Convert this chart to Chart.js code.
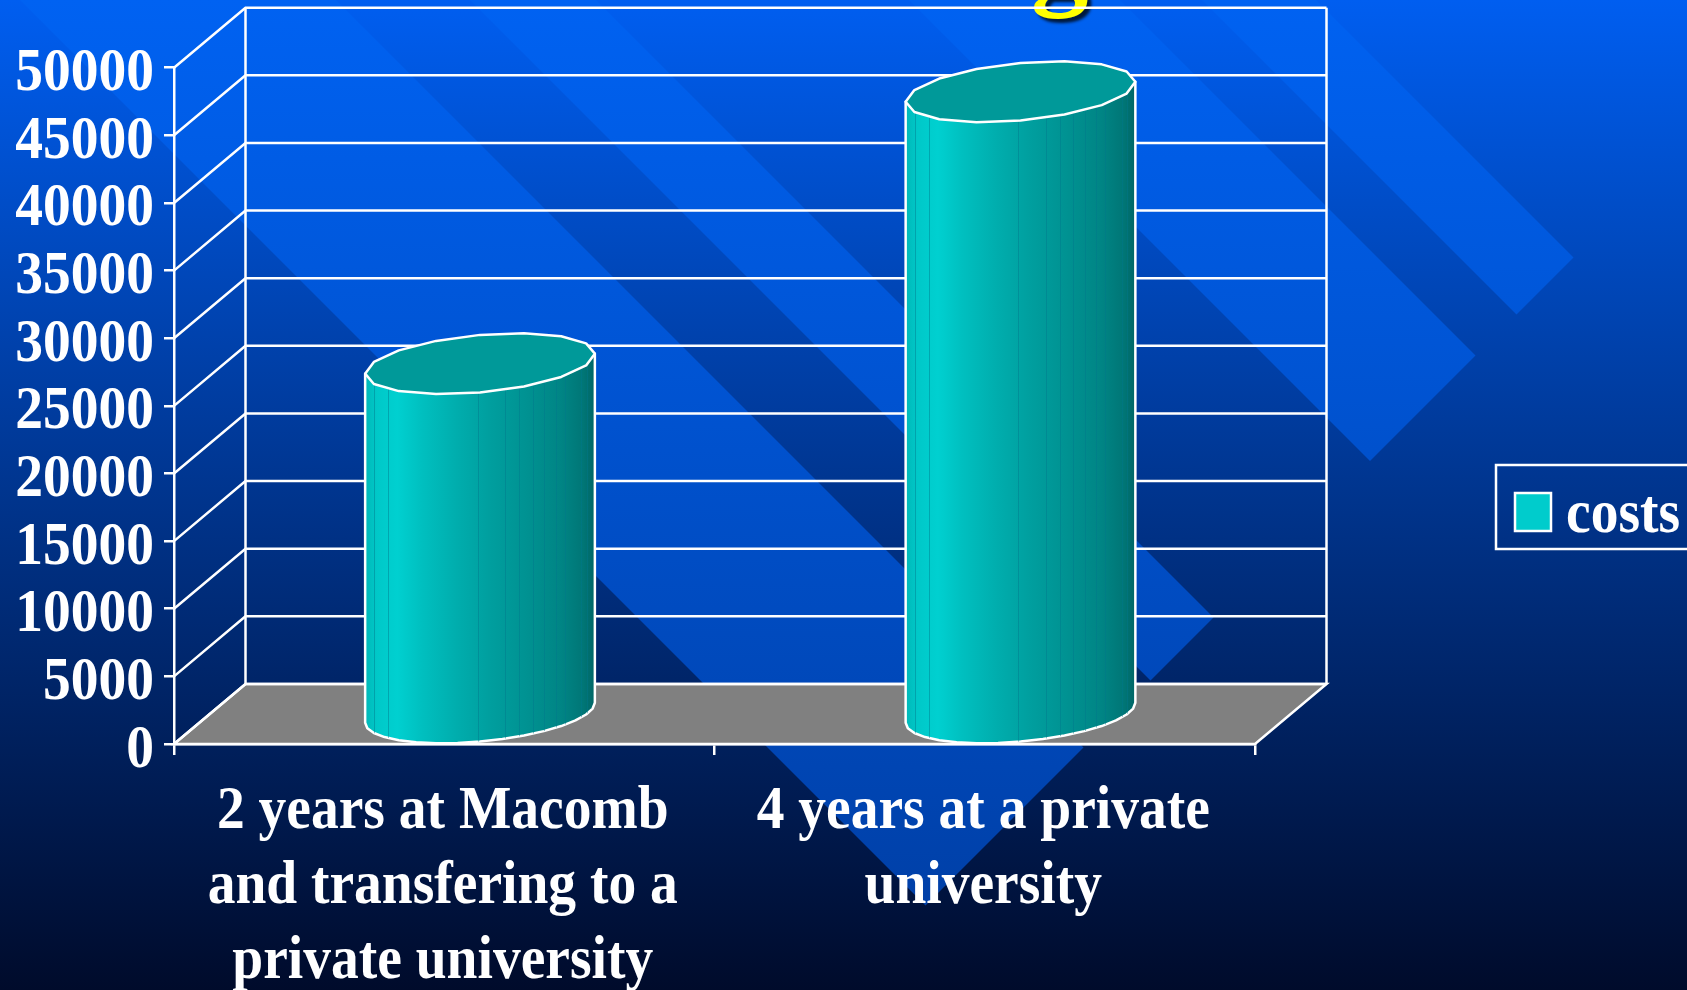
<!DOCTYPE html>
<html>
<head>
<meta charset="utf-8">
<title>costs</title>
<script src="https://cdn.jsdelivr.net/npm/chart.js@4/dist/chart.umd.js"></script>
<style>
    html, body { margin: 0; padding: 0; background: #00102e; overflow: hidden; }
    canvas { display: block; }
</style>
</head>
<body>
<canvas id="costChart" width="1687" height="990"></canvas>
<script>
const categories = [
    ['2 years at Macomb', 'and transfering to a', 'private university'],
    ['4 years at a private', 'university']
];
const costs = [25900, 46000];
const seriesLabel = 'costs';
const axisMax = 50000;
const axisStep = 5000;

const labelFont = 'bold 55.5px "Liberation Serif"';
const textStretch = 1.09;   // the slide text is taller than the font, it was resized with the slide
const depthX = 71.5;        // how far the back wall sits from the front axis
const depthY = -60;
const lineWidth = 2.5;
const rimLean = 10;         // the cylinder sides meet the rim 10px off centre
const rimSquash = 28.8;

// background chevrons, as ranges of (x - y), all cut off on x + y = 1831
const stripes = [[20, 336], [470, 596], [909, 1120], [1202, 1316]];
const stripeEnd = 1831;

const shadeStops = [
    [0, '#00b8b8'], [0.05, '#00c8c8'], [0.14, '#00d0d0'], [0.25, '#00bfbf'], [0.4, '#00adad'],
    [0.55, '#009e9e'], [0.7, '#009292'], [0.85, '#008585'], [0.95, '#007676'], [1, '#006666']
];
// seams between the facets of the cylinder, as a share of its width
const seams = [0.04, 0.1, 0.49, 0.61, 0.67, 0.73, 0.78, 0.83, 0.87, 0.94, 0.965];

function drawText(ctx, text, x, y, align) {
    ctx.save();
    ctx.font = labelFont;
    ctx.fillStyle = '#ffffff';
    ctx.textAlign = align;
    ctx.textBaseline = 'alphabetic';
    ctx.translate(x, y);
    ctx.scale(1, textStretch);
    ctx.fillText(text, 0, 0);
    ctx.restore();
}

function drawBackground(ctx, chart) {
    const h = chart.height;
    const base = ctx.createLinearGradient(0, 0, 0, h);
    base.addColorStop(0, '#005ef0');
    base.addColorStop(1, '#000b2b');
    ctx.fillStyle = base;
    ctx.fillRect(0, 0, chart.width, h);

    const lit = ctx.createLinearGradient(0, 0, 0, 900);
    lit.addColorStop(0, '#0062f2');
    lit.addColorStop(1, '#0040a8');
    ctx.fillStyle = lit;
    stripes.forEach(([a, b]) => {
        ctx.beginPath();
        ctx.moveTo(a, 0);
        ctx.lineTo(b, 0);
        ctx.lineTo((stripeEnd + b) / 2, (stripeEnd - b) / 2);
        ctx.lineTo((stripeEnd + a) / 2, (stripeEnd - a) / 2);
        ctx.closePath();
        ctx.fill();
    });

    // the only bit of the slide title that is left in the crop
    ctx.save();
    ctx.font = 'bold 115px "Liberation Serif"';
    ctx.fillStyle = '#ffff00';
    ctx.shadowColor = 'rgba(0,0,0,0.75)';
    ctx.shadowOffsetX = 4;
    ctx.shadowOffsetY = 4;
    ctx.shadowBlur = 3;
    ctx.fillText('g', 1031, -6);
    ctx.restore();
}

function drawWalls(ctx, chart) {
    const { left, right, bottom } = chart.chartArea;
    const yScale = chart.scales.y;

    ctx.save();
    ctx.fillStyle = '#808080';
    ctx.strokeStyle = '#ffffff';
    ctx.lineWidth = lineWidth;
    ctx.beginPath();
    ctx.moveTo(left, bottom);
    ctx.lineTo(left + depthX, bottom + depthY);
    ctx.lineTo(right + depthX, bottom + depthY);
    ctx.lineTo(right, bottom);
    ctx.closePath();
    ctx.fill();
    ctx.stroke();

    yScale.ticks.forEach(tick => {
        const y = yScale.getPixelForValue(tick.value);
        ctx.beginPath();
        ctx.moveTo(left, y);
        ctx.lineTo(left + depthX, y + depthY);
        ctx.lineTo(right + depthX, y + depthY);
        ctx.stroke();
    });

    const wallTop = yScale.getPixelForValue(axisMax) + depthY;
    [left + depthX, right + depthX].forEach(x => {
        ctx.beginPath();
        ctx.moveTo(x, wallTop);
        ctx.lineTo(x, bottom + depthY);
        ctx.stroke();
    });
    ctx.restore();
}

// the rim of the cylinder is a coarse polygon in the original, t runs from startT to endT
function rimTo(ctx, cx, cy, half, startT, endT) {
    const steps = 16;
    for (let i = 0; i <= steps; i++) {
        const t = startT + (endT - startT) * i / steps;
        ctx.lineTo(cx + half * Math.cos(t), cy - rimLean * Math.cos(t) + rimSquash * Math.sin(t));
    }
}

// cylinder standing half way into the floor, built from the bar's own x / y / base / width
function drawCylinder(ctx, bar) {
    const { x, y, base, width } = bar.getProps(['x', 'y', 'base', 'width']);
    const cx = x + depthX / 2;
    const topY = y + depthY / 2;
    const baseY = base + depthY / 2;
    const half = width / 2;

    const shade = ctx.createLinearGradient(cx - half, 0, cx + half, 0);
    shadeStops.forEach(([at, color]) => shade.addColorStop(at, color));

    ctx.save();
    ctx.lineWidth = lineWidth;
    ctx.strokeStyle = '#ffffff';
    ctx.lineJoin = 'round';

    ctx.beginPath();
    ctx.moveTo(cx - half, topY + rimLean);
    rimTo(ctx, cx, baseY, half, Math.PI, 0);
    ctx.lineTo(cx + half, topY - rimLean);
    ctx.closePath();
    ctx.fillStyle = shade;
    ctx.fill();
    ctx.stroke();

    ctx.save();
    ctx.clip();
    ctx.lineWidth = 1;
    ctx.strokeStyle = 'rgba(0, 120, 140, 0.45)';
    seams.forEach(at => {
        const sx = Math.round(cx - half + width * at) + 0.5;
        ctx.beginPath();
        ctx.moveTo(sx, topY);
        ctx.lineTo(sx, baseY + 40);
        ctx.stroke();
    });
    ctx.restore();

    ctx.beginPath();
    rimTo(ctx, cx, topY, half, 0, Math.PI * 2);
    ctx.closePath();
    ctx.fillStyle = '#009999';
    ctx.fill();
    ctx.stroke();
    ctx.restore();
}

function drawTickLabels(ctx, chart) {
    const { x: xScale, y: yScale } = chart.scales;
    yScale.ticks.forEach(tick => {
        drawText(ctx, String(tick.value), 154, yScale.getPixelForValue(tick.value) + 22.5, 'right');
    });
    xScale.ticks.forEach((tick, i) => {
        categories[i].forEach((line, row) => {
            drawText(ctx, line, xScale.getPixelForTick(i) - 1.5, 828 + row * 75, 'center');
        });
    });
}

function drawLegend(ctx, chart) {
    const dataset = chart.data.datasets[0];
    ctx.save();
    ctx.strokeStyle = '#ffffff';
    ctx.lineWidth = lineWidth;
    ctx.strokeRect(1496, 465, 210, 84);
    ctx.fillStyle = dataset.backgroundColor;
    ctx.fillRect(1515, 493, 36, 38);
    ctx.strokeRect(1515, 493, 36, 38);
    ctx.restore();
    drawText(ctx, dataset.label, 1566, 532, 'left');
}

const slidePlugin = {
    id: 'slide',
    beforeDraw(chart) {
        drawBackground(chart.ctx, chart);
        drawWalls(chart.ctx, chart);
    },
    beforeDatasetDraw(chart, args) {
        args.meta.data.forEach(bar => drawCylinder(chart.ctx, bar));
        return false;
    },
    afterDraw(chart) {
        drawTickLabels(chart.ctx, chart);
        drawLegend(chart.ctx, chart);
    }
};

new Chart(document.getElementById('costChart'), {
    type: 'bar',
    data: {
        labels: categories,
        datasets: [{
            label: seriesLabel,
            data: costs,
            backgroundColor: '#00cccc',
            categoryPercentage: 1,
            barPercentage: 0.425
        }]
    },
    plugins: [slidePlugin],
    options: {
        responsive: false,
        animation: false,
        devicePixelRatio: 1,
        layout: { padding: { top: 67.7, right: 432, left: 0, bottom: 0 } },
        plugins: { legend: { display: false }, tooltip: { enabled: false } },
        scales: {
            x: {
                afterFit: scale => { scale.height = 246; },
                grid: { drawOnChartArea: false, color: '#ffffff', tickLength: 11, lineWidth: lineWidth },
                border: { color: '#ffffff', width: lineWidth },
                ticks: { display: false, autoSkip: false }   // drawn by the plugin, they need stretching
            },
            y: {
                min: 0,
                max: axisMax,
                afterFit: scale => { scale.width = 174; },
                grid: { drawOnChartArea: false, color: '#ffffff', tickLength: 10, lineWidth: lineWidth },
                border: { color: '#ffffff', width: lineWidth },
                ticks: { display: false, stepSize: axisStep, autoSkip: false }
            }
        }
    }
});
</script>
</body>
</html>
